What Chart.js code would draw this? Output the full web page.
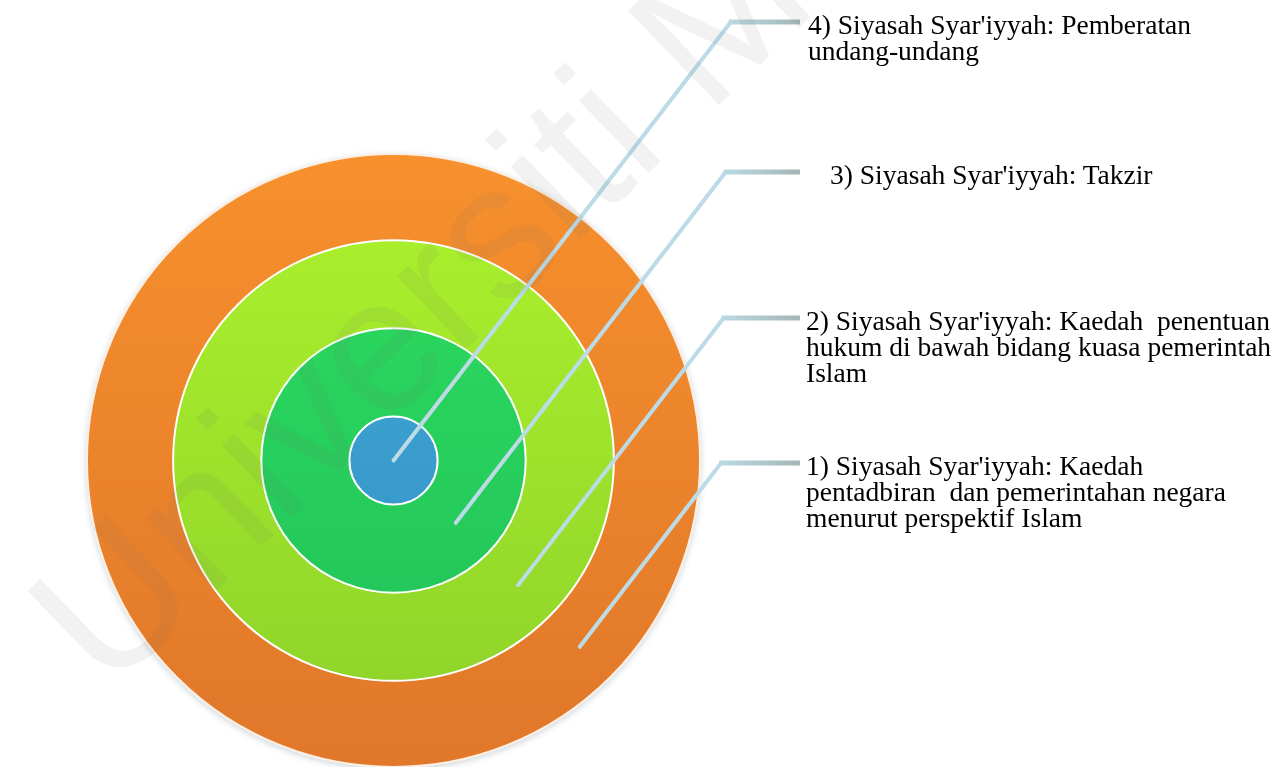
<!DOCTYPE html>
<html>
<head>
<meta charset="utf-8">
<script src="https://cdn.jsdelivr.net/npm/chart.js@4.4.1/dist/chart.umd.min.js"></script>
<style>
  html, body { margin: 0; padding: 0; background: #fff; }
  #wrap { position: relative; width: 1284px; height: 767px; overflow: hidden; }
  #rings { position: absolute; left: 0; top: 0; }
  .label {
    position: absolute;
    font-family: "Liberation Serif", "Times New Roman", serif;
    font-size: 27.5px;
    line-height: 26px;
    color: #000;
    white-space: pre;
  }
  #mark {
    position: absolute;
    left: 128px;
    top: 526px;
    font-family: "Liberation Sans", Arial, sans-serif;
    font-size: 190px;
    line-height: 190px;
    color: rgba(110, 110, 110, 0.09);
    white-space: nowrap;
    transform-origin: 0 100%;
    transform: rotate(-44deg);
    pointer-events: none;
  }
</style>
</head>
<body>
<div id="wrap">
  <canvas id="rings" width="1284" height="767"></canvas>
  <div id="mark">Universiti Malaya</div>
</div>
<script>
// rings from outside in: 1) outer orange ... 4) inner blue
const ringLabels = [
  "1) Siyasah Syar'iyyah: Kaedah\npentadbiran  dan pemerintahan negara\nmenurut perspektif Islam",
  "2) Siyasah Syar'iyyah: Kaedah  penentuan\nhukum di bawah bidang kuasa pemerintah\nIslam",
  "3) Siyasah Syar'iyyah: Takzir",
  "4) Siyasah Syar'iyyah: Pemberatan\nundang-undang"
]
const ringValues = [1, 1, 1, 1]
const ringWeights = [86, 88, 88, 44]

// colours, top and bottom of each ring
const ringTop = ["#f7902d", "#aef32c", "#2ede60", "#40a9d7"]
const ringBottom = ["#e0772a", "#8cd02a", "#20bf58", "#3390c3"]

// callout layout
const calloutY = [463, 318, 172, 22]
const calloutTextX = [806, 806, 830, 808]
const calloutEndX = 800
const calloutSlope = 1.3

function ringGradient(i) {
    return function (ctx) {
        const area = ctx.chart.chartArea
        if (!area) return ringTop[i]
        const g = ctx.chart.ctx.createLinearGradient(0, area.top, 0, area.bottom)
        g.addColorStop(0, ringTop[i])
        g.addColorStop(1, ringBottom[i])
        return g
    }
}

const ringShadow = {
    id: "ringShadow",
    beforeDatasetsDraw(chart) {
        const arc = chart.getDatasetMeta(0).data[0]
        const ctx = chart.ctx
        ctx.save()
        ctx.shadowColor = "rgba(60, 90, 110, 0.25)"
        ctx.shadowBlur = 6
        ctx.shadowOffsetY = 2
        ctx.fillStyle = "#fff"
        ctx.beginPath()
        ctx.arc(arc.x, arc.y, arc.outerRadius + 1, 0, Math.PI * 2)
        ctx.fill()
        ctx.restore()
    }
}

const callouts = {
    id: "callouts",
    afterDatasetsDraw(chart) {
        const ctx = chart.ctx
        // white edges between rings
        chart.data.datasets.forEach((ds, i) => {
            const arc = chart.getDatasetMeta(i).data[0]
            ctx.save()
            ctx.strokeStyle = i == 0 ? "#fbeee2" : "#ffffff"
            ctx.lineWidth = 2
            ctx.beginPath()
            ctx.arc(arc.x, arc.y, arc.outerRadius, 0, Math.PI * 2)
            ctx.stroke()
            ctx.restore()
        })
        // leader lines
        chart.data.datasets.forEach((ds, i) => {
            const arc = chart.getDatasetMeta(i).data[0]
            const r = arc.innerRadius > 1 ? (arc.innerRadius + arc.outerRadius) / 2 : 0
            const sx = arc.x + r * Math.SQRT1_2
            const sy = arc.y + r * Math.SQRT1_2
            const ey = calloutY[i]
            const ex = sx + (sy - ey) / calloutSlope
            ctx.save()
            ctx.lineCap = "round"
            ctx.lineJoin = "round"
            ctx.strokeStyle = "#bcdbe6"
            ctx.lineWidth = 4
            ctx.beginPath()
            ctx.moveTo(sx, sy)
            ctx.lineTo(ex, ey)
            ctx.stroke()
            const g = ctx.createLinearGradient(ex, 0, calloutEndX, 0)
            g.addColorStop(0, "#b9d9e2")
            g.addColorStop(1, "#a4b6b6")
            ctx.strokeStyle = g
            ctx.lineWidth = 5
            ctx.lineCap = "butt"
            ctx.beginPath()
            ctx.moveTo(ex - 2, ey)
            ctx.lineTo(calloutEndX, ey)
            ctx.stroke()
            ctx.restore()
        })
    }
}

const chart = new Chart(document.getElementById("rings"), {
    type: "pie",
    data: {
        labels: [""],
        datasets: ringValues.map((v, i) => ({
            label: ringLabels[i],
            data: [v],
            weight: ringWeights[i],
            backgroundColor: ringGradient(i),
            borderWidth: 0
        }))
    },
    options: {
        responsive: false,
        animation: false,
        layout: {
            padding: { left: 87, top: 154, right: 584, bottom: 0 }
        },
        plugins: {
            legend: { display: false },
            tooltip: { enabled: false }
        }
    },
    plugins: [ringShadow, callouts]
})

// text labels next to each leader line
const wrap = document.getElementById("wrap")
ringLabels.forEach((t, i) => {
    const d = document.createElement("div")
    d.className = "label"
    d.textContent = t
    d.style.left = calloutTextX[i] + "px"
    d.style.top = (calloutY[i] - 10) + "px"
    wrap.insertBefore(d, document.getElementById("mark"))
})
</script>
</body>
</html>
